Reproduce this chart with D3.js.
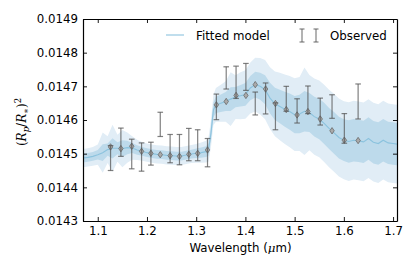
<!DOCTYPE html>
<html>
<head>
<meta charset="utf-8">
<script src="https://cdn.jsdelivr.net/npm/d3@7"></script>
<style>
  body { margin: 0; background: #fff; }
  svg { display: block; font-family: "DejaVu Sans", sans-serif; }
</style>
</head>
<body>
<svg id="chart" width="415" height="274"></svg>
<script>
// observed transmission spectrum
const obsWave = [1.126, 1.147, 1.169, 1.189, 1.208, 1.227, 1.247, 1.266, 1.285, 1.303, 1.323,
                 1.341, 1.361, 1.381, 1.401, 1.420, 1.441, 1.461, 1.483, 1.505, 1.527, 1.552,
                 1.576, 1.601, 1.629];
const obsFlux = [0.014487, 0.014534, 0.014499, 0.014490, 0.014500, 0.014587, 0.014515, 0.014512,
                 0.014527, 0.014525, 0.014503, 0.014639, 0.014725, 0.014712, 0.014728, 0.014649,
                 0.014664, 0.014611, 0.014663, 0.014627, 0.014660, 0.014625, 0.014640, 0.014575,
                 0.014655];
const obsErr = [3.7e-5, 4.2e-5, 4.4e-5, 4.2e-5, 3.4e-5, 3.6e-5, 4.2e-5, 4.5e-5, 4.8e-5, 4.6e-5,
                4.2e-5, 3.8e-5, 3.3e-5, 4.8e-5, 4.0e-5, 3.4e-5, 4.6e-5, 4.0e-5, 3.7e-5, 3.6e-5,
                4.1e-5, 4.0e-5, 3.5e-5, 4.4e-5, 5.2e-5];
// model binned to the observed channels
const binFlux = [0.014520, 0.014515, 0.014522, 0.014507, 0.014501, 0.014497, 0.014494, 0.014492,
                 0.014498, 0.014501, 0.014511, 0.014645, 0.014655, 0.014673, 0.014673, 0.014705,
                 0.014692, 0.014649, 0.014631, 0.014615, 0.014625, 0.014603, 0.014568, 0.014540,
                 0.014539];

// fitted model (median) and 1 / 2 sigma half widths
const modelWave = [1.07, 1.08, 1.09, 1.10, 1.11, 1.12, 1.13, 1.14, 1.15, 1.16, 1.17, 1.18, 1.19,
                   1.20, 1.21, 1.22, 1.23, 1.24, 1.25, 1.26, 1.27, 1.28, 1.29, 1.30, 1.31, 1.32,
                   1.325, 1.33, 1.335, 1.34, 1.35, 1.36, 1.37, 1.38, 1.39, 1.40, 1.41, 1.42, 1.43,
                   1.44, 1.45, 1.46, 1.47, 1.48, 1.49, 1.50, 1.51, 1.52, 1.53, 1.54, 1.55, 1.56,
                   1.57, 1.58, 1.59, 1.60, 1.61, 1.62, 1.63, 1.64, 1.65, 1.66, 1.67, 1.68, 1.69,
                   1.70, 1.71];
const modelFlux = [0.014487, 0.014489, 0.014492, 0.014497, 0.014503, 0.014512, 0.014516, 0.014516,
                   0.014515, 0.014518, 0.014517, 0.014511, 0.014507, 0.014503, 0.014500, 0.014498,
                   0.014497, 0.014495, 0.014494, 0.014493, 0.014493, 0.014496, 0.014499, 0.014501,
                   0.014503, 0.014506, 0.014512, 0.014560, 0.014630, 0.014645, 0.014650, 0.014655,
                   0.014662, 0.014668, 0.014672, 0.014676, 0.014695, 0.014705, 0.014700, 0.014690,
                   0.014665, 0.014648, 0.014640, 0.014632, 0.014625, 0.014616, 0.014618, 0.014626,
                   0.014622, 0.014610, 0.014603, 0.014590, 0.014575, 0.014562, 0.014548, 0.014540,
                   0.014536, 0.014540, 0.014538, 0.014535, 0.014545, 0.014534, 0.014530, 0.014540,
                   0.014532, 0.014530, 0.014528];
const sigma1 = [1.3e-5, 1.3e-5, 1.3e-5, 1.4e-5, 2.5e-5, 1.8e-5, 3.0e-5, 1.8e-5, 2.5e-5, 2.0e-5,
                1.5e-5, 1.4e-5, 1.3e-5, 1.3e-5, 1.3e-5, 1.3e-5, 1.3e-5, 1.3e-5, 1.3e-5, 1.3e-5,
                1.3e-5, 1.3e-5, 1.3e-5, 1.4e-5, 1.5e-5, 1.6e-5, 1.8e-5, 2.0e-5, 2.2e-5, 2.4e-5,
                2.6e-5, 2.8e-5, 3.5e-5, 3.0e-5, 3.2e-5, 3.4e-5, 3.6e-5, 3.8e-5, 4.0e-5, 4.3e-5,
                4.6e-5, 4.8e-5, 5.0e-5, 5.2e-5, 5.4e-5, 5.5e-5, 5.7e-5, 6.0e-5, 5.8e-5, 5.9e-5,
                6.0e-5, 6.1e-5, 6.1e-5, 6.2e-5, 6.2e-5, 6.2e-5, 6.3e-5, 6.3e-5, 6.3e-5, 6.3e-5,
                6.3e-5, 6.3e-5, 6.3e-5, 6.3e-5, 6.3e-5, 6.3e-5, 6.3e-5];
const sigma2 = [2.7e-5, 2.7e-5, 2.8e-5, 3.0e-5, 6.0e-5, 4.0e-5, 7.0e-5, 4.0e-5, 5.5e-5, 4.5e-5,
                3.5e-5, 3.0e-5, 2.8e-5, 2.7e-5, 2.7e-5, 2.7e-5, 2.7e-5, 2.7e-5, 2.7e-5, 2.7e-5,
                2.7e-5, 2.7e-5, 2.7e-5, 2.8e-5, 3.0e-5, 3.2e-5, 3.6e-5, 4.0e-5, 4.5e-5, 5.0e-5,
                5.5e-5, 6.0e-5, 8.0e-5, 6.5e-5, 7.0e-5, 7.2e-5, 7.6e-5, 8.0e-5, 8.4e-5, 8.8e-5,
                9.2e-5, 9.6e-5, 1.0e-4, 1.03e-4, 1.06e-4, 1.08e-4, 1.1e-4, 1.3e-4, 1.12e-4, 1.13e-4,
                1.14e-4, 1.15e-4, 1.15e-4, 1.16e-4, 1.16e-4, 1.16e-4, 1.17e-4, 1.17e-4, 1.17e-4, 1.17e-4,
                1.17e-4, 1.17e-4, 1.17e-4, 1.17e-4, 1.17e-4, 1.17e-4, 1.17e-4];

const xTicks = [1.1, 1.2, 1.3, 1.4, 1.5, 1.6, 1.7];
const yTicks = [0.0143, 0.0144, 0.0145, 0.0146, 0.0147, 0.0148, 0.0149];

const margin = { top: 19, right: 18, bottom: 53, left: 83 };
const width = 415 - margin.left - margin.right,
      height = 274 - margin.top - margin.bottom;

const svg = d3.select('#chart');
const g = svg.append('g').attr('transform', `translate(${margin.left},${margin.top})`);

const x = d3.scaleLinear().domain([1.07, 1.708]).range([0, width]);
const y = d3.scaleLinear().domain([0.0143, 0.0149]).range([height, 0]);

g.append('clipPath').attr('id', 'clip')
  .append('rect').attr('width', width).attr('height', height);

const plot = g.append('g').attr('clip-path', 'url(#clip)');

const model = modelWave.map((w, i) => ({ w, f: modelFlux[i], s1: sigma1[i], s2: sigma2[i] }));

// 2 sigma band
plot.append('path')
  .datum(model)
  .attr('fill', '#e1edf6')
  .attr('d', d3.area().x(d => x(d.w)).y0(d => y(d.f - d.s2)).y1(d => y(d.f + d.s2)));

// 1 sigma band
plot.append('path')
  .datum(model)
  .attr('fill', '#bddaeb')
  .attr('d', d3.area().x(d => x(d.w)).y0(d => y(d.f - d.s1)).y1(d => y(d.f + d.s1)));

// median model
plot.append('path')
  .datum(model)
  .attr('fill', 'none')
  .attr('stroke', '#8cc3de')
  .attr('stroke-width', 1.1)
  .attr('d', d3.line().x(d => x(d.w)).y(d => y(d.f)));

// binned model diamonds
plot.selectAll('.bin')
  .data(binFlux)
  .enter()
  .append('path')
  .attr('class', 'bin')
  .attr('transform', (d, i) => `translate(${x(obsWave[i])},${y(d)})`)
  .attr('d', 'M0,-3.2L2.2,0L0,3.2L-2.2,0Z')
  .attr('fill', '#aaa')
  .attr('stroke', '#6a6a6a')
  .attr('stroke-width', 0.8);

// observed error bars
const bars = plot.selectAll('.obs')
  .data(obsFlux)
  .enter()
  .append('g')
  .attr('class', 'obs')
  .attr('stroke', '#555')
  .attr('stroke-opacity', 0.75)
  .attr('stroke-width', 1.2);

bars.append('line')
  .attr('x1', (d, i) => x(obsWave[i])).attr('x2', (d, i) => x(obsWave[i]))
  .attr('y1', (d, i) => y(d - obsErr[i])).attr('y2', (d, i) => y(d + obsErr[i]));
bars.append('line')
  .attr('x1', (d, i) => x(obsWave[i]) - 2.8).attr('x2', (d, i) => x(obsWave[i]) + 2.8)
  .attr('y1', (d, i) => y(d + obsErr[i])).attr('y2', (d, i) => y(d + obsErr[i]));
bars.append('line')
  .attr('x1', (d, i) => x(obsWave[i]) - 2.8).attr('x2', (d, i) => x(obsWave[i]) + 2.8)
  .attr('y1', (d, i) => y(d - obsErr[i])).attr('y2', (d, i) => y(d - obsErr[i]));

// axes, ticks pointing inward on all four sides
const fontSize = '11.8px';
const xAxis = g.append('g').attr('transform', `translate(0,${height})`)
  .call(d3.axisBottom(x).tickValues(xTicks).tickSize(-4).tickSizeOuter(0).tickPadding(6)
    .tickFormat(d3.format('.1f')));
const yAxis = g.append('g')
  .call(d3.axisLeft(y).tickValues(yTicks).tickSize(-4).tickSizeOuter(0).tickPadding(5)
    .tickFormat(d3.format('.4f')));
const topAxis = g.append('g')
  .call(d3.axisTop(x).tickValues(xTicks).tickSize(-4).tickSizeOuter(0).tickFormat(''));
const rightAxis = g.append('g').attr('transform', `translate(${width},0)`)
  .call(d3.axisRight(y).tickValues(yTicks).tickSize(-4).tickSizeOuter(0).tickFormat(''));

[xAxis, yAxis, topAxis, rightAxis].forEach(a => {
  a.selectAll('.domain').attr('stroke', '#000').attr('stroke-width', 1.2);
  a.selectAll('.tick line').attr('stroke', '#000').attr('stroke-width', 0.9);
  a.selectAll('.tick text').attr('font-size', fontSize).attr('fill', '#000')
    .attr('font-family', '"DejaVu Sans", sans-serif');
});

// axis labels
svg.append('text')
  .attr('x', margin.left + x(1.39))
  .attr('y', 252)
  .attr('text-anchor', 'middle')
  .attr('font-size', fontSize)
  .html('Wavelength (<tspan font-style="italic" font-family="DejaVu Serif">μ</tspan>m)');

const yl = svg.append('text')
  .attr('transform', 'translate(26,122) rotate(-90)')
  .attr('text-anchor', 'middle')
  .attr('font-family', '"DejaVu Serif", serif')
  .attr('font-style', 'italic')
  .attr('font-size', '12px');
yl.append('tspan').attr('font-style', 'normal').text('(');
yl.append('tspan').text('R');
yl.append('tspan').attr('font-size', '8.5px').attr('dy', 3).text('p');
yl.append('tspan').attr('font-style', 'normal').attr('dy', -3).text('/');
yl.append('tspan').text('R');
yl.append('tspan').attr('font-size', '8.5px').attr('dy', 3).attr('font-style', 'normal').text('∗');
yl.append('tspan').attr('font-style', 'normal').attr('dy', -3).text(')');
yl.append('tspan').attr('font-size', '8.5px').attr('dy', -5).attr('font-style', 'normal').text('2');

// legend
const legend = svg.append('g').attr('font-size', fontSize);
legend.append('line')
  .attr('x1', 166).attr('x2', 184).attr('y1', 35).attr('y2', 35)
  .attr('stroke', '#8cc3de').attr('stroke-width', 1.1);
legend.append('text').attr('x', 196).attr('y', 39.5).text('Fitted model');
[302, 316].forEach(cx => {
  const lg = legend.append('g').attr('stroke', '#555').attr('stroke-opacity', 0.75).attr('stroke-width', 1.2);
  lg.append('line').attr('x1', cx).attr('x2', cx).attr('y1', 29).attr('y2', 42);
  lg.append('line').attr('x1', cx - 2.5).attr('x2', cx + 2.5).attr('y1', 29).attr('y2', 29);
  lg.append('line').attr('x1', cx - 2.5).attr('x2', cx + 2.5).attr('y1', 42).attr('y2', 42);
});
legend.append('text').attr('x', 330).attr('y', 39.5).text('Observed');
</script>
</body>
</html>
